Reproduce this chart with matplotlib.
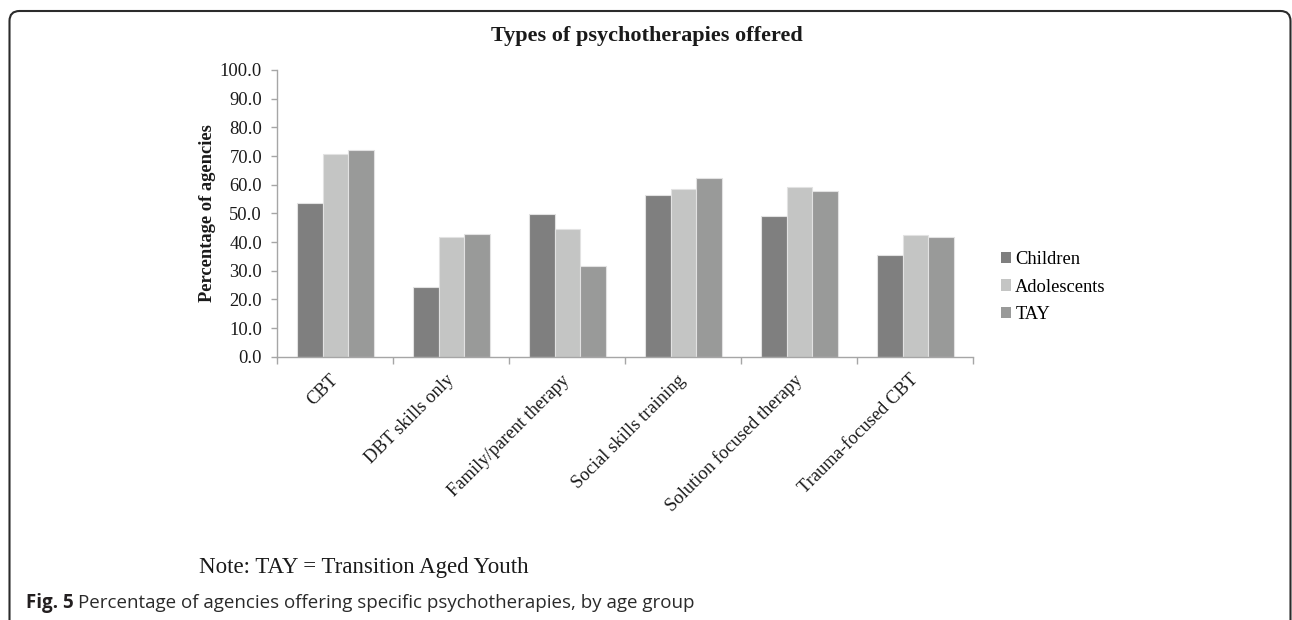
import matplotlib
matplotlib.use("Agg")
import matplotlib.pyplot as plt
from matplotlib.patches import FancyBboxPatch, Patch
from matplotlib.transforms import IdentityTransform
import numpy as np

# Survey results: share of agencies offering each psychotherapy, by age group
therapies = [
    "CBT",
    "DBT skills only",
    "Family/parent therapy",
    "Social skills training",
    "Solution focused therapy",
    "Trauma-focused CBT",
]
children = [53.5, 24.4, 49.7, 56.3, 49.2, 35.5]
adolescents = [70.7, 41.7, 44.7, 58.5, 59.1, 42.3]
tay = [72.0, 42.7, 31.6, 62.2, 57.7, 41.6]

series_names = ["Children", "Adolescents", "TAY"]
series_values = [children, adolescents, tay]
series_colors = ["#7f7f7f", "#c4c5c4", "#999a99"]

y_ticks = [0, 10, 20, 30, 40, 50, 60, 70, 80, 90, 100]

W, H = 1292, 620
fig = plt.figure(figsize=(W / 100, H / 100), dpi=100)
fig.patch.set_facecolor("white")

serif = ["Liberation Serif", "DejaVu Serif"]
sans = ["Open Sans", "DejaVu Sans"]
ink = "#1a1a1a"
axis_gray = "#a6a6a6"

# plot area in pixel terms
left_px, right_px, top_px, bottom_px = 277.3, 973.3, 70.0, 356.7
ax = fig.add_axes([left_px / W, 1 - bottom_px / H,
                   (right_px - left_px) / W, (bottom_px - top_px) / H])

x = np.arange(len(therapies))
bar_w = 0.22
for i, (name, vals, col) in enumerate(zip(series_names, series_values, series_colors)):
    ax.bar(x + (i - 1) * bar_w, vals, width=bar_w, color=col,
           edgecolor="#e2e2e2", linewidth=0.8, label=name, zorder=2)

ax.set_xlim(-0.5, len(therapies) - 0.5)
ax.set_ylim(0, 100)

for s in ["top", "right"]:
    ax.spines[s].set_visible(False)
for s in ["left", "bottom"]:
    ax.spines[s].set_color(axis_gray)
    ax.spines[s].set_linewidth(1.0)

ax.set_yticks(y_ticks)
ax.set_yticklabels([f"{v:.1f}" for v in y_ticks], fontfamily=serif, fontsize=13.3, color=ink)
ax.tick_params(axis="y", direction="out", length=4, width=1.0, color=axis_gray, pad=7)

# boundary ticks between categories, labels at category centres
ax.set_xticks(np.arange(len(therapies) + 1) - 0.5)
ax.set_xticklabels([])
ax.tick_params(axis="x", which="major", direction="out", length=5, width=1.0, color=axis_gray)
ax.set_xticks(x, minor=True)
ax.set_xticklabels(therapies, minor=True, rotation=45, ha="right", va="center",
                   rotation_mode="anchor", fontfamily=serif, fontsize=13.3, color=ink)
ax.tick_params(axis="x", which="minor", length=0, pad=15)

ax.set_ylabel("Percentage of agencies", fontfamily=serif, fontsize=13.3,
              fontweight="bold", color=ink)
ax.yaxis.set_label_coords((215.5 - left_px) / (right_px - left_px), 0.5)

# legend with small square keys
handles = [Patch(facecolor=c, edgecolor="none") for c in series_colors]
fig.legend(handles, series_names, loc="center left",
           bbox_to_anchor=(1001.0 / W, 1 - 287.0 / H), frameon=False,
           prop={"family": serif, "size": 13.3}, handlelength=0.55,
           handleheight=0.55, handletextpad=0.22, labelspacing=0.55,
           borderpad=0, borderaxespad=0)

fig.text(647 / W, 1 - 36 / H, "Types of psychotherapies offered",
         fontfamily=serif, fontsize=16, fontweight="bold", color=ink,
         ha="center", va="center")

fig.text(199.3 / W, 1 - 567 / H, "Note: TAY = Transition Aged Youth",
         fontfamily=serif, fontsize=16.5, color=ink, ha="left", va="center")

# figure caption below the frame content
cap_y = 1 - 603 / H
t1 = fig.text(26 / W, cap_y, "Fig. 5", fontfamily=sans,
              fontsize=13.5, fontweight="bold", color="#231f20", ha="left", va="center")
fig.canvas.draw()
bb = t1.get_window_extent()
fig.text((bb.x1 + 4) / W, cap_y,
         "Percentage of agencies offering specific psychotherapies, by age group",
         fontfamily=sans, fontsize=13.5, color="#2a2a2a",
         ha="left", va="center")

# rounded outer frame, open past the bottom edge
frame = FancyBboxPatch((9.5, -40), 1281, H - 11 + 40,
                       boxstyle="round,pad=0,rounding_size=10",
                       transform=IdentityTransform(), facecolor="none",
                       edgecolor="#2b2b2b", linewidth=1.5)
fig.patches.append(frame)

fig.savefig("out.png", dpi=100, facecolor="white")
